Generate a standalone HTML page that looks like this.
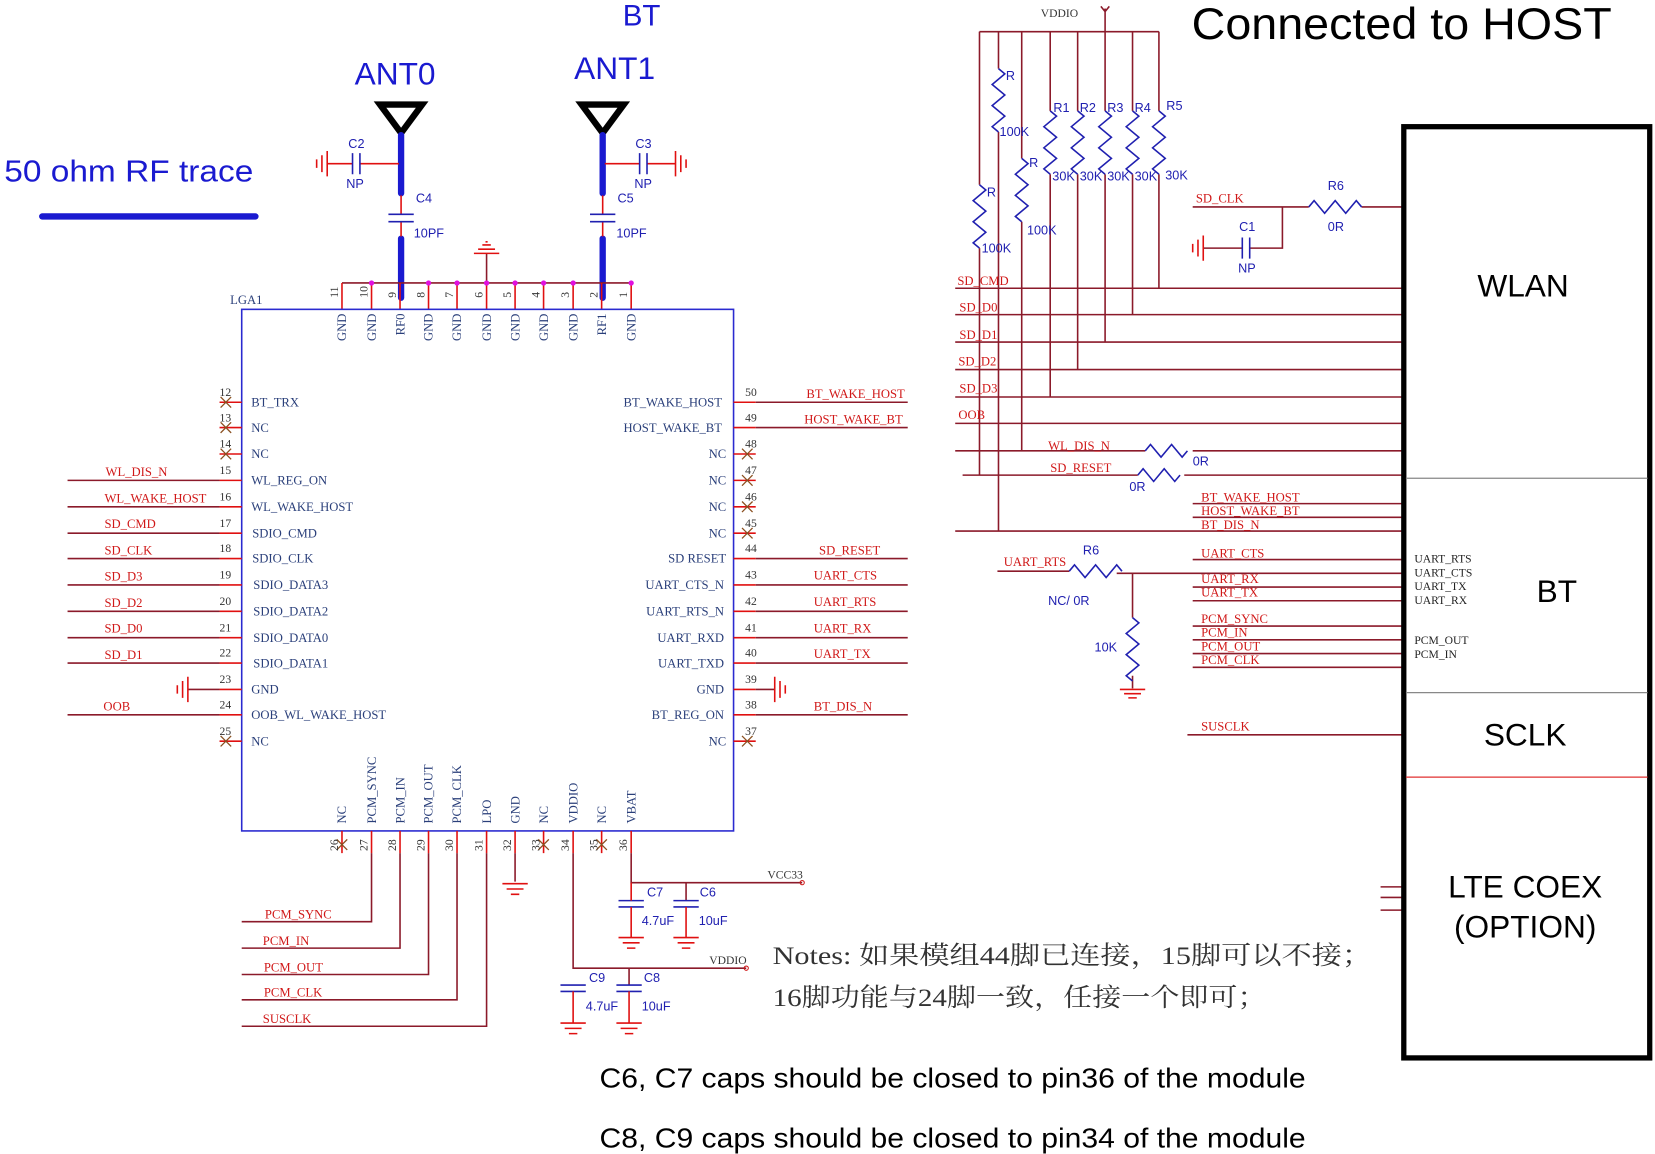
<!DOCTYPE html>
<html><head><meta charset="utf-8"><style>
html,body{margin:0;padding:0;background:#fff;}
svg{display:block;}
.w{stroke:#8b1a2a;stroke-width:1.5;fill:none;}
.r{stroke:#e01010;stroke-width:1.5;fill:none;}
.b{stroke:#2020b0;stroke-width:1.5;fill:none;}
.pl{font-family:"Liberation Serif",serif;font-size:12px;fill:#2a3f7a;}
.pn{font-family:"Liberation Serif",serif;font-size:11px;fill:#333;}
.nt{font-family:"Liberation Serif",serif;font-size:12px;fill:#d01818;}
.cl{font-family:"Liberation Sans",sans-serif;font-size:12px;fill:#2020b0;}
</style></head><body>
<svg width="1655" height="1154" viewBox="0 0 1568 1093" preserveAspectRatio="none" xmlns="http://www.w3.org/2000/svg">
<!-- titles -->
<text x="590" y="24" font-family="Liberation Sans,sans-serif" font-size="28" fill="#1a1ad0">BT</text>
<text x="336" y="80" font-family="Liberation Sans,sans-serif" font-size="30" fill="#1a1ad0">ANT0</text>
<text x="544" y="75" font-family="Liberation Sans,sans-serif" font-size="30" fill="#1a1ad0">ANT1</text>
<text x="4" y="172" font-family="Liberation Sans,sans-serif" font-size="29" fill="#1a1ad0" textLength="236" lengthAdjust="spacingAndGlyphs">50 ohm RF trace</text>
<line x1="40" y1="205" x2="242" y2="205" stroke="#1a1ad0" stroke-width="6" stroke-linecap="round"/>
<text x="1129" y="37" font-family="Liberation Sans,sans-serif" font-size="42" fill="#000" textLength="398" lengthAdjust="spacingAndGlyphs">Connected to HOST</text>

<!-- antennas -->
<polygon points="360,99 400,99 380,126" fill="none" stroke="#000" stroke-width="6" stroke-linejoin="miter"/>
<polygon points="551,99 591,99 571,126" fill="none" stroke="#000" stroke-width="6"/>
<g stroke="#1a1ad0" stroke-width="6" stroke-linecap="round">
<line x1="380" y1="128" x2="380" y2="183"/><line x1="380" y1="226" x2="380" y2="282"/>
<line x1="571" y1="128" x2="571" y2="183"/><line x1="571" y1="226" x2="571" y2="282"/>
</g>
<path class="r" d="M380 185 V203 M380 210 V224 M571 185 V203 M571 210 V224"/>
<path class="b" stroke-width="2" d="M368 203 H392 M368 210 H392 M559 203 H583 M559 210 H583"/>
<text class="cl" x="394" y="192">C4</text><text class="cl" x="392" y="225">10PF</text>
<text class="cl" x="585" y="192">C5</text><text class="cl" x="584" y="225">10PF</text>
<!-- C2 -->
<path class="r" d="M310 155 H334 M341 155 H378"/>
<path class="b" stroke-width="2" d="M334 145 V165 M341 145 V165"/>
<path class="r" d="M310 143 V167 M305 147 V163 M300 151 V159"/>
<text class="cl" x="330" y="140">C2</text><text class="cl" x="328" y="178">NP</text>
<!-- C3 -->
<path class="r" d="M573 155 H606 M613 155 H640"/>
<path class="b" stroke-width="2" d="M606 145 V165 M613 145 V165"/>
<path class="r" d="M640 143 V167 M645 147 V163 M650 151 V159"/>
<text class="cl" x="602" y="140">C3</text><text class="cl" x="601" y="178">NP</text>

<!-- top pin bus -->
<path class="w" d="M324 268 H598"/>
<path class="r" d="M324 268 V293 M352 268 V293 M379 268 V293 M406 268 V293 M433 268 V293 M461 268 V293 M488 268 V293 M515 268 V293 M543 268 V293 M570 268 V293 M598 268 V293"/>
<path class="w" d="M461 268 V240"/>
<path class="r" d="M449 240 H473 M453 236 H469 M457 232 H465 M460 229 H462"/>
<g fill="#e010e0"><circle cx="352" cy="268" r="2.5"/><circle cx="406" cy="268" r="2.5"/><circle cx="433" cy="268" r="2.5"/><circle cx="461" cy="268" r="2.5"/><circle cx="488" cy="268" r="2.5"/><circle cx="515" cy="268" r="2.5"/><circle cx="543" cy="268" r="2.5"/><circle cx="598" cy="268" r="2.5"/></g>
<g class="pn">
<text transform="translate(320,282) rotate(-90)">11</text><text transform="translate(348,282) rotate(-90)">10</text>
<text transform="translate(375,282) rotate(-90)">9</text><text transform="translate(402,282) rotate(-90)">8</text>
<text transform="translate(429,282) rotate(-90)">7</text><text transform="translate(457,282) rotate(-90)">6</text>
<text transform="translate(484,282) rotate(-90)">5</text><text transform="translate(511,282) rotate(-90)">4</text>
<text transform="translate(539,282) rotate(-90)">3</text><text transform="translate(566,282) rotate(-90)">2</text>
<text transform="translate(594,282) rotate(-90)">1</text>
</g>
<g class="pl" text-anchor="end">
<text transform="translate(328,297) rotate(-90)">GND</text><text transform="translate(356,297) rotate(-90)">GND</text>
<text transform="translate(383,297) rotate(-90)">RF0</text><text transform="translate(410,297) rotate(-90)">GND</text>
<text transform="translate(437,297) rotate(-90)">GND</text><text transform="translate(465,297) rotate(-90)">GND</text>
<text transform="translate(492,297) rotate(-90)">GND</text><text transform="translate(519,297) rotate(-90)">GND</text>
<text transform="translate(547,297) rotate(-90)">GND</text><text transform="translate(574,297) rotate(-90)">RF1</text>
<text transform="translate(602,297) rotate(-90)">GND</text>
</g>

<!-- LGA box -->
<text x="218" y="288" class="pl" fill="#223">LGA1</text>
<rect x="229" y="293" width="466" height="494" fill="none" stroke="#2a2ad0" stroke-width="1.5"/>

<!-- left pins -->
<path class="r" d="M208 381 H229 M208 405 H229 M208 430 H229 M208 455 H229 M208 480 H229 M208 505 H229 M208 529 H229 M208 554 H229 M208 579 H229 M208 604 H229 M208 628 H229 M208 653 H229 M208 677 H229 M208 702 H229"/>
<path stroke="#8a5020" stroke-width="1.2" d="M209 376 l10 10 M219 376 l-10 10 M209 400 l10 10 M219 400 l-10 10 M209 425 l10 10 M219 425 l-10 10 M209 697 l10 10 M219 697 l-10 10"/>
<g class="pn"><text x="208" y="375">12</text><text x="208" y="399">13</text><text x="208" y="424">14</text><text x="208" y="449">15</text><text x="208" y="474">16</text><text x="208" y="499">17</text><text x="208" y="523">18</text><text x="208" y="548">19</text><text x="208" y="573">20</text><text x="208" y="598">21</text><text x="208" y="622">22</text><text x="208" y="647">23</text><text x="208" y="671">24</text><text x="208" y="696">25</text></g>
<g class="pl"><text x="238" y="385">BT_TRX</text><text x="238" y="409">NC</text><text x="238" y="434">NC</text><text x="238" y="459">WL_REG_ON</text><text x="238" y="484">WL_WAKE_HOST</text><text x="239" y="509">SDIO_CMD</text><text x="239" y="533">SDIO_CLK</text><text x="240" y="558">SDIO_DATA3</text><text x="240" y="583">SDIO_DATA2</text><text x="240" y="608">SDIO_DATA0</text><text x="240" y="632">SDIO_DATA1</text><text x="238" y="657">GND</text><text x="238" y="681">OOB_WL_WAKE_HOST</text><text x="238" y="706">NC</text></g>
<path class="w" d="M64 455 H208 M64 480 H208 M64 505 H208 M64 529 H208 M64 554 H208 M64 579 H208 M64 604 H208 M64 628 H208 M64 677 H208"/>
<path class="w" d="M178 653 H208"/><path class="r" d="M178 641 V665 M173 645 V661 M168 649 V657"/>
<g class="nt"><text x="100" y="451">WL_DIS_N</text><text x="99" y="476">WL_WAKE_HOST</text><text x="99" y="500">SD_CMD</text><text x="99" y="525">SD_CLK</text><text x="99" y="550">SD_D3</text><text x="99" y="575">SD_D2</text><text x="99" y="599">SD_D0</text><text x="99" y="624">SD_D1</text><text x="98" y="673">OOB</text></g>

<!-- right pins -->
<path class="r" d="M695 381 H716 M695 405 H716 M695 430 H716 M695 455 H716 M695 480 H716 M695 505 H716 M695 529 H716 M695 554 H716 M695 579 H716 M695 604 H716 M695 628 H716 M695 653 H716 M695 677 H716 M695 702 H716"/>
<path stroke="#8a5020" stroke-width="1.2" d="M703 425 l10 10 M713 425 l-10 10 M703 450 l10 10 M713 450 l-10 10 M703 475 l10 10 M713 475 l-10 10 M703 500 l10 10 M713 500 l-10 10 M703 697 l10 10 M713 697 l-10 10"/>
<g class="pn"><text x="706" y="375">50</text><text x="706" y="399">49</text><text x="706" y="424">48</text><text x="706" y="449">47</text><text x="706" y="474">46</text><text x="706" y="499">45</text><text x="706" y="523">44</text><text x="706" y="548">43</text><text x="706" y="573">42</text><text x="706" y="598">41</text><text x="706" y="622">40</text><text x="706" y="647">39</text><text x="706" y="671">38</text><text x="706" y="696">37</text></g>
<g class="pl" text-anchor="end"><text x="684" y="385">BT_WAKE_HOST</text><text x="684" y="409">HOST_WAKE_BT</text><text x="688" y="434">NC</text><text x="688" y="459">NC</text><text x="688" y="484">NC</text><text x="688" y="509">NC</text><text x="688" y="533">SD RESET</text><text x="686" y="558">UART_CTS_N</text><text x="686" y="583">UART_RTS_N</text><text x="686" y="608">UART_RXD</text><text x="686" y="632">UART_TXD</text><text x="686" y="657">GND</text><text x="686" y="681">BT_REG_ON</text><text x="688" y="706">NC</text></g>
<path class="w" d="M716 381 H860 M716 405 H860 M716 529 H860 M716 554 H860 M716 579 H860 M716 604 H860 M716 628 H860 M716 677 H860 M716 653 H734"/>
<path class="r" d="M734 641 V665 M739 645 V661 M744 649 V657"/>
<g class="nt"><text x="764" y="377">BT_WAKE_HOST</text><text x="762" y="401">HOST_WAKE_BT</text><text x="776" y="525">SD_RESET</text><text x="771" y="549">UART_CTS</text><text x="771" y="574">UART_RTS</text><text x="771" y="599">UART_RX</text><text x="771" y="623">UART_TX</text><text x="771" y="673">BT_DIS_N</text></g>

<!-- bottom pins -->
<path class="r" d="M324 787 V808 M352 787 V808 M379 787 V808 M406 787 V808 M433 787 V808 M461 787 V808 M488 787 V808 M515 787 V808 M543 787 V808 M570 787 V808 M598 787 V808"/>
<path stroke="#8a5020" stroke-width="1.2" d="M319 795 l10 10 M329 795 l-10 10 M510 795 l10 10 M520 795 l-10 10 M565 795 l10 10 M575 795 l-10 10"/>
<g class="pl">
<text transform="translate(328,780) rotate(-90)">NC</text><text transform="translate(356,780) rotate(-90)">PCM_SYNC</text>
<text transform="translate(383,780) rotate(-90)">PCM_IN</text><text transform="translate(410,780) rotate(-90)">PCM_OUT</text>
<text transform="translate(437,780) rotate(-90)">PCM_CLK</text><text transform="translate(465,780) rotate(-90)">LPO</text>
<text transform="translate(492,780) rotate(-90)">GND</text><text transform="translate(519,780) rotate(-90)">NC</text>
<text transform="translate(547,780) rotate(-90)">VDDIO</text><text transform="translate(574,780) rotate(-90)">NC</text>
<text transform="translate(602,780) rotate(-90)">VBAT</text>
</g>
<g class="pn">
<text transform="translate(320,806) rotate(-90)">26</text><text transform="translate(348,806) rotate(-90)">27</text>
<text transform="translate(375,806) rotate(-90)">28</text><text transform="translate(402,806) rotate(-90)">29</text>
<text transform="translate(429,806) rotate(-90)">30</text><text transform="translate(457,806) rotate(-90)">31</text>
<text transform="translate(484,806) rotate(-90)">32</text><text transform="translate(511,806) rotate(-90)">33</text>
<text transform="translate(539,806) rotate(-90)">34</text><text transform="translate(566,806) rotate(-90)">35</text>
<text transform="translate(594,806) rotate(-90)">36</text>
</g>
<path class="w" d="M352 808 V873 H229 M379 808 V898 H229 M406 808 V923 H229 M433 808 V947 H229 M461 808 V972 H229 M488 808 V835"/>
<path class="r" d="M476 837 H500 M480 842 H496 M484 847 H492"/>
<g class="nt"><text x="251" y="870">PCM_SYNC</text><text x="249" y="895">PCM_IN</text><text x="250" y="920">PCM_OUT</text><text x="250" y="944">PCM_CLK</text><text x="249" y="969">SUSCLK</text></g>
<!-- VCC33 -->
<path class="w" d="M598 808 V836 H760 M650 836 V853"/>
<circle cx="760" cy="836" r="2" fill="none" stroke="#d01818"/>
<text x="727" y="832" class="pn" fill="#222">VCC33</text>
<path class="b" stroke-width="2" d="M586 853 H610 M586 859 H610 M638 853 H662 M638 859 H662"/>
<path class="r" d="M598 836 V853 M598 859 V888 M650 859 V888 M586 888 H610 M590 893 H606 M594 898 H602 M638 888 H662 M642 893 H658 M646 898 H654"/>
<text class="cl" x="613" y="849">C7</text><text class="cl" x="608" y="876">4.7uF</text><text class="cl" x="663" y="849">C6</text><text class="cl" x="662" y="876">10uF</text>
<!-- VDDIO bottom -->
<path class="w" d="M543 808 V917 H707 M596 917 V933"/>
<circle cx="707" cy="917" r="2" fill="none" stroke="#d01818"/>
<text x="672" y="913" class="pn" fill="#222">VDDIO</text>
<path class="b" stroke-width="2" d="M531 933 H555 M531 939 H555 M584 933 H608 M584 939 H608"/>
<path class="r" d="M543 939 V969 M596 939 V969 M531 969 H555 M535 974 H551 M539 979 H547 M584 969 H608 M588 974 H604 M592 979 H600"/>
<text class="cl" x="558" y="930">C9</text><text class="cl" x="555" y="957">4.7uF</text><text class="cl" x="610" y="930">C8</text><text class="cl" x="608" y="957">10uF</text>

<!-- notes -->
<text x="732" y="913" font-family="Liberation Serif,'Noto Serif CJK SC',serif" font-size="24" fill="#333" textLength="568" lengthAdjust="spacingAndGlyphs">Notes: 如果模组44脚已连接，15脚可以不接；</text>
<text x="732" y="953" font-family="Liberation Serif,'Noto Serif CJK SC',serif" font-size="24" fill="#333" textLength="468" lengthAdjust="spacingAndGlyphs">16脚功能与24脚一致，任接一个即可；</text>
<text x="568" y="1030" font-family="Liberation Sans,sans-serif" font-size="26" fill="#000" textLength="669" lengthAdjust="spacingAndGlyphs">C6, C7 caps should be closed to pin36 of the module</text>
<text x="568" y="1087" font-family="Liberation Sans,sans-serif" font-size="26" fill="#000" textLength="669" lengthAdjust="spacingAndGlyphs">C8, C9 caps should be closed to pin34 of the module</text>

<!-- right side pull-ups -->
<text x="986" y="16" class="pn" fill="#222">VDDIO</text>
<path class="w" d="M1047 8 V30 M1043 6 l4 5 l4 -5"/>
<path class="w" d="M928 30 H1098"/>
<path class="w" d="M928 30 V175 M928 235 V450 M946 30 V65 M946 125 V503 M968 30 V150 M968 210 V427 M995 30 V105 M995 165 V376 M1021 30 V105 M1021 165 V350 M1047 30 V105 M1047 165 V324 M1073 30 V105 M1073 165 V298 M1098 30 V105 M1098 165 V273"/>
<path class="b" d="M946 65 l6 5 l-12 10 l12 10 l-12 10 l12 10 l-12 10 l6 5 M968 150 l6 5 l-12 10 l12 10 l-12 10 l12 10 l-12 10 l6 5 M928 175 l6 5 l-12 10 l12 10 l-12 10 l12 10 l-12 10 l6 5 M995 105 l6 5 l-12 10 l12 10 l-12 10 l12 10 l-12 10 l6 5 M1021 105 l6 5 l-12 10 l12 10 l-12 10 l12 10 l-12 10 l6 5 M1047 105 l6 5 l-12 10 l12 10 l-12 10 l12 10 l-12 10 l6 5 M1073 105 l6 5 l-12 10 l12 10 l-12 10 l12 10 l-12 10 l6 5 M1098 105 l6 5 l-12 10 l12 10 l-12 10 l12 10 l-12 10 l6 5"/>
<g class="cl"><text x="953" y="76">R</text><text x="947" y="129">100K</text><text x="975" y="158">R</text><text x="973" y="222">100K</text><text x="935" y="186">R</text><text x="930" y="239">100K</text>
<text x="998" y="106">R1</text><text x="1023" y="106">R2</text><text x="1049" y="106">R3</text><text x="1075" y="106">R4</text><text x="1105" y="104">R5</text>
<text x="997" y="171">30K</text><text x="1023" y="171">30K</text><text x="1049" y="171">30K</text><text x="1075" y="171">30K</text><text x="1104" y="170">30K</text></g>
<!-- horizontal nets -->
<path class="w" d="M905 273 H1328 M905 298 H1328 M905 324 H1328 M905 350 H1328 M905 376 H1328 M905 401 H1328 M905 427 H1085 M1130 427 H1328 M912 450 H1078 M1122 450 H1328 M905 503 H1328 M1130 477 H1328 M1130 490 H1328"/>
<path class="b" d="M1085 427 l5 -6 l10 12 l10 -12 l10 12 l5 -6 M1078 450 l5 -6 l10 12 l10 -12 l10 12 l5 -6"/>
<text class="cl" x="1130" y="441">0R</text><text class="cl" x="1070" y="465">0R</text>
<g class="nt"><text x="907" y="270">SD_CMD</text><text x="909" y="295">SD_D0</text><text x="909" y="321">SD_D1</text><text x="908" y="346">SD_D2</text><text x="909" y="372">SD_D3</text><text x="908" y="397">OOB</text><text x="993" y="426">WL_DIS_N</text><text x="995" y="447">SD_RESET</text>
<text x="1138" y="475">BT_WAKE_HOST</text><text x="1138" y="488">HOST_WAKE_BT</text><text x="1138" y="501">BT_DIS_N</text></g>
<!-- SD_CLK + C1 -->
<path class="w" d="M1130 196 H1240 M1290 196 H1328 M1215 196 V235 H1184 M1177 235 H1140"/>
<path class="b" d="M1240 196 l5 -6 l10 12 l10 -12 l10 12 l10 -12 l5 6"/>
<path class="b" stroke-width="2" d="M1177 225 V245 M1184 225 V245"/>
<path class="r" d="M1140 223 V247 M1135 227 V243 M1130 231 V239"/>
<text class="nt" x="1133" y="192">SD_CLK</text>
<text class="cl" x="1258" y="180">R6</text><text class="cl" x="1258" y="219">0R</text>
<text class="cl" x="1174" y="219">C1</text><text class="cl" x="1173" y="258">NP</text>
<!-- BT nets -->
<path class="w" d="M1130 530 H1328 M945 541 H1013 M1058 543 H1328 M1130 556 H1328 M1130 569 H1328 M1130 593 H1328 M1130 606 H1328 M1130 619 H1328 M1130 632 H1328 M1125 696 H1328 M1073 543 V585 M1073 640 V652"/>
<path class="b" d="M1013 541 l5 -6 l10 12 l10 -12 l10 12 l10 -12 l5 6 M1073 585 l6 5 l-12 10 l12 10 l-12 10 l12 10 l-12 10 l6 5"/>
<path class="r" d="M1061 653 H1085 M1065 657 H1081 M1069 661 H1077"/>
<text class="nt" x="951" y="536">UART_RTS</text>
<text class="cl" x="1026" y="525">R6</text><text class="cl" x="993" y="573">NC/ 0R</text><text class="cl" x="1037" y="617">10K</text>
<g class="nt"><text x="1138" y="528">UART_CTS</text><text x="1138" y="552">UART_RX</text><text x="1138" y="565">UART_TX</text><text x="1138" y="590">PCM_SYNC</text><text x="1138" y="603">PCM_IN</text><text x="1138" y="616">PCM_OUT</text><text x="1138" y="629">PCM_CLK</text><text x="1138" y="692">SUSCLK</text></g>
<path class="w" d="M1308 840 H1328 M1308 850 H1328 M1308 862 H1328"/>
<!-- Host box -->
<rect x="1330" y="120" width="233" height="882" fill="none" stroke="#000" stroke-width="5"/>
<path stroke="#888" stroke-width="1.2" d="M1332 453 H1561 M1332 656 H1561"/>
<path stroke="#e03030" stroke-width="1.2" d="M1332 736 H1561"/>
<g font-family="Liberation Sans,sans-serif" font-size="30" fill="#000" text-anchor="middle">
<text x="1443" y="281">WLAN</text><text x="1475" y="570">BT</text><text x="1445" y="706">SCLK</text><text x="1445" y="850">LTE COEX</text><text x="1445" y="888">(OPTION)</text></g>
<g font-family="Liberation Serif,serif" font-size="11" fill="#222"><text x="1340" y="533">UART_RTS</text><text x="1340" y="546">UART_CTS</text><text x="1340" y="559">UART_TX</text><text x="1340" y="572">UART_RX</text><text x="1340" y="610">PCM_OUT</text><text x="1340" y="623">PCM_IN</text></g>
</svg>
</body></html>
